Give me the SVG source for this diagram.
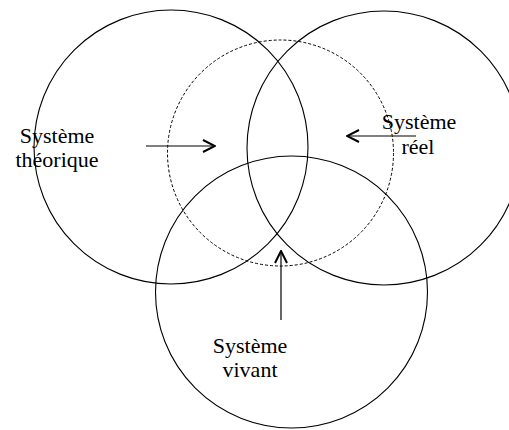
<svg xmlns="http://www.w3.org/2000/svg" width="509" height="430" viewBox="0 0 509 430">
  <style>
    .ring { fill: none; stroke: #000; stroke-width: 1.1; }
    .ring.dashed { stroke-dasharray: 3 2; stroke-width: 1; }
    .arrow { fill: none; stroke: #000; stroke-width: 1.2; marker-end: url(#head); }
    text { font-family: 'Liberation Serif', 'Times New Roman', 'DejaVu Serif', serif; font-size: 22px; fill: #000; text-anchor: middle; }
  </style>
  <defs>
    <marker id="head" viewBox="0 0 14 14" refX="13" refY="7" markerWidth="14" markerHeight="14" markerUnits="userSpaceOnUse" orient="auto">
      <path d="M1,1 L13,7 L1,13" fill="none" stroke="#000" stroke-width="2"/>
    </marker>
  </defs>
  <rect width="509" height="430" fill="#fff"/>

  <g id="systeme-theorique">
    <circle class="ring" cx="171" cy="147" r="137"/>
    <text x="57" y="143" font-family="Liberation Serif, serif">Système</text>
    <text x="57" y="167" font-family="Liberation Serif, serif">théorique</text>
  </g>

  <g id="systeme-reel">
    <circle class="ring" cx="384" cy="148" r="137"/>
    <text x="419" y="129" font-family="Liberation Serif, serif">Système</text>
    <text x="418" y="154" font-family="Liberation Serif, serif">réel</text>
  </g>

  <g id="systeme-vivant">
    <circle class="ring" cx="291.5" cy="292" r="136"/>
    <text x="250" y="353" font-family="Liberation Serif, serif">Système</text>
    <text x="250" y="377" font-family="Liberation Serif, serif">vivant</text>
  </g>

  <g id="zone-commune">
    <circle class="ring dashed" cx="280.5" cy="153" r="113"/>
  </g>

  <g id="connectors">
    <line class="arrow" x1="146" y1="146" x2="215" y2="146"/>
    <line class="arrow" x1="416" y1="136" x2="347" y2="136"/>
    <line class="arrow" x1="281" y1="320" x2="281" y2="251"/>
  </g>
</svg>
